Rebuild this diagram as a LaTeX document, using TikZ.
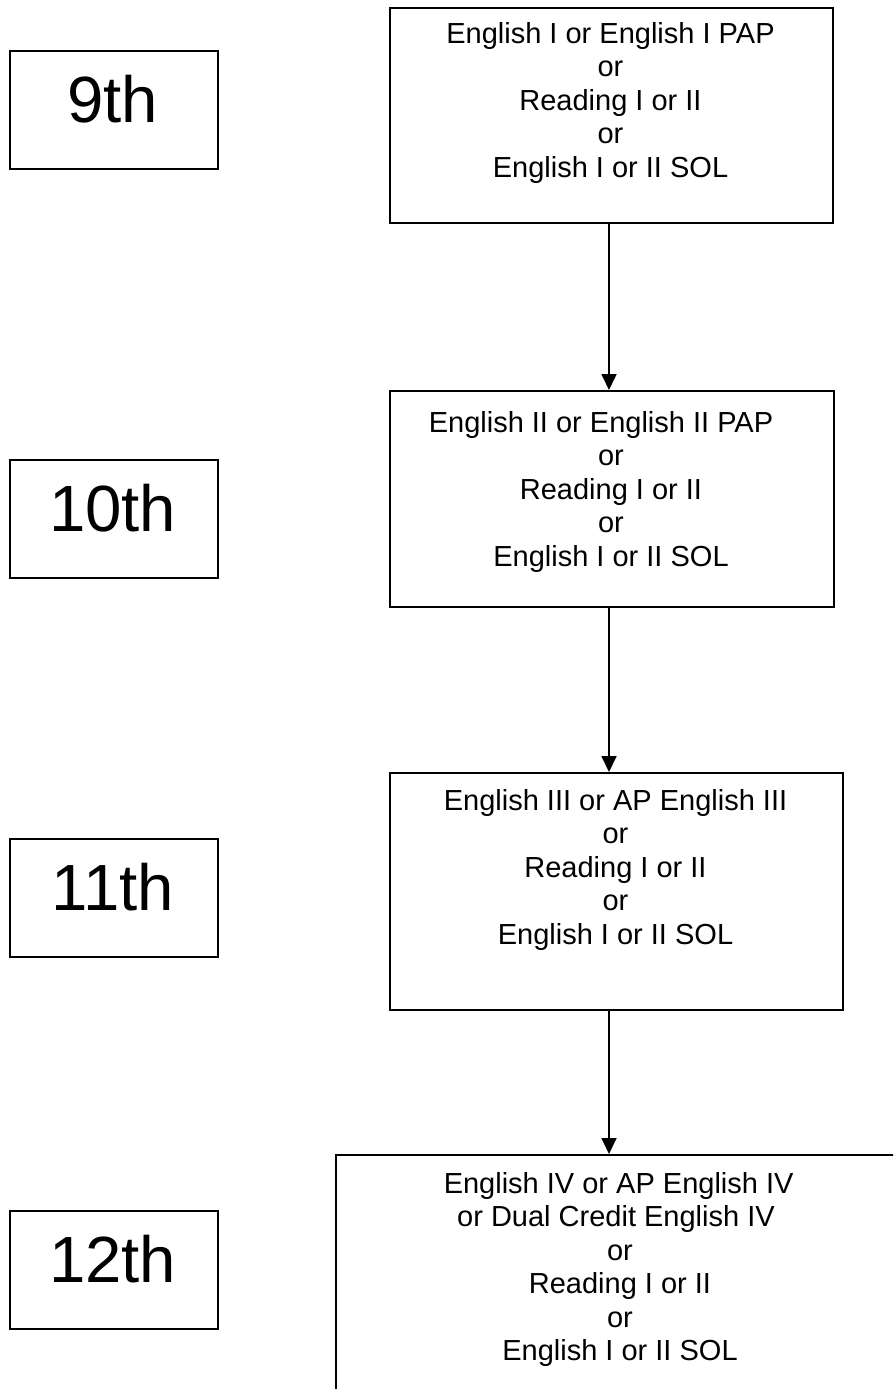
\documentclass[tikz,border=0pt]{standalone}
\usepackage{fontspec}
\setmainfont{Liberation Sans}
\usetikzlibrary{arrows.meta}
\begin{document}
\begin{tikzpicture}[x=0.75pt,y=-0.75pt,
  gradebox/.style={draw,line width=1.5pt,minimum width=156.4pt,minimum height=88.5pt,anchor=north west,inner sep=0pt},
  gradetxt/.style={font=\fontsize{49pt}{58pt}\selectfont,anchor=base,inner sep=0pt},
  coursebox/.style={draw,line width=1.5pt,anchor=north west,inner sep=0pt},
  coursetxt/.style={font=\fontsize{21.75pt}{25.05pt}\selectfont,align=center,anchor=north,inner sep=0pt},
  arr/.style={line width=1.3pt,-{Triangle[width=11.25pt,length=12pt]}}]
\useasboundingbox (0,0) rectangle (893,1389);
\clip (0,0) rectangle (893,1389);

% grade boxes
\node[gradebox] (g9)  at (8.5,50) {};
\node[gradebox] (g10) at (8.5,459) {};
\node[gradebox] (g11) at (8.5,838) {};
\node[gradebox] (g12) at (8.5,1210) {};
\node[gradetxt] (g9t)  at (112.75,122) {9th};
\node[gradetxt] (g10t) at (112.75,531) {10th};
\node[gradetxt] (g11t) at (112.75,910) {11th};
\node[gradetxt] (g12t) at (112.75,1282) {12th};

% course boxes
\node[coursebox,minimum width=332.25pt,minimum height=161.25pt] (b1) at (389,7) {};
\node[coursebox,minimum width=333pt,minimum height=162pt] (b2) at (389,390) {};
\node[coursebox,minimum width=339.75pt,minimum height=177.75pt] (b3) at (389,772) {};
\node[coursebox,minimum width=427.5pt,minimum height=225pt] (b4) at (335,1154) {};

\node[coursetxt] (t1) at (610.5,22.2) {English I or English I PAP\\or\\Reading I or II\\or\\English I or II SOL};
\node[coursetxt] (t2) at (611,411.2) {English II or English II PAP\rule{15pt}{0pt}\\or\\Reading I or II\\or\\English I or II SOL};
\node[coursetxt] (t3) at (615.5,789.2) {English III or AP English III\\or\\Reading I or II\\or\\English I or II SOL};
\node[coursetxt] (t4) at (620,1172.2) {English IV or AP English IV\rule{2pt}{0pt}\\or Dual Credit English IV\rule{6pt}{0pt}\\or\\Reading I or II\\or\\English I or II SOL};

% arrows
\coordinate (ax) at (609,0);
\draw[arr] (b1.south -| ax) -- (b2.north -| ax);
\draw[arr] (b2.south -| ax) -- (b3.north -| ax);
\draw[arr] (b3.south -| ax) -- (b4.north -| ax);
\end{tikzpicture}
\end{document}
